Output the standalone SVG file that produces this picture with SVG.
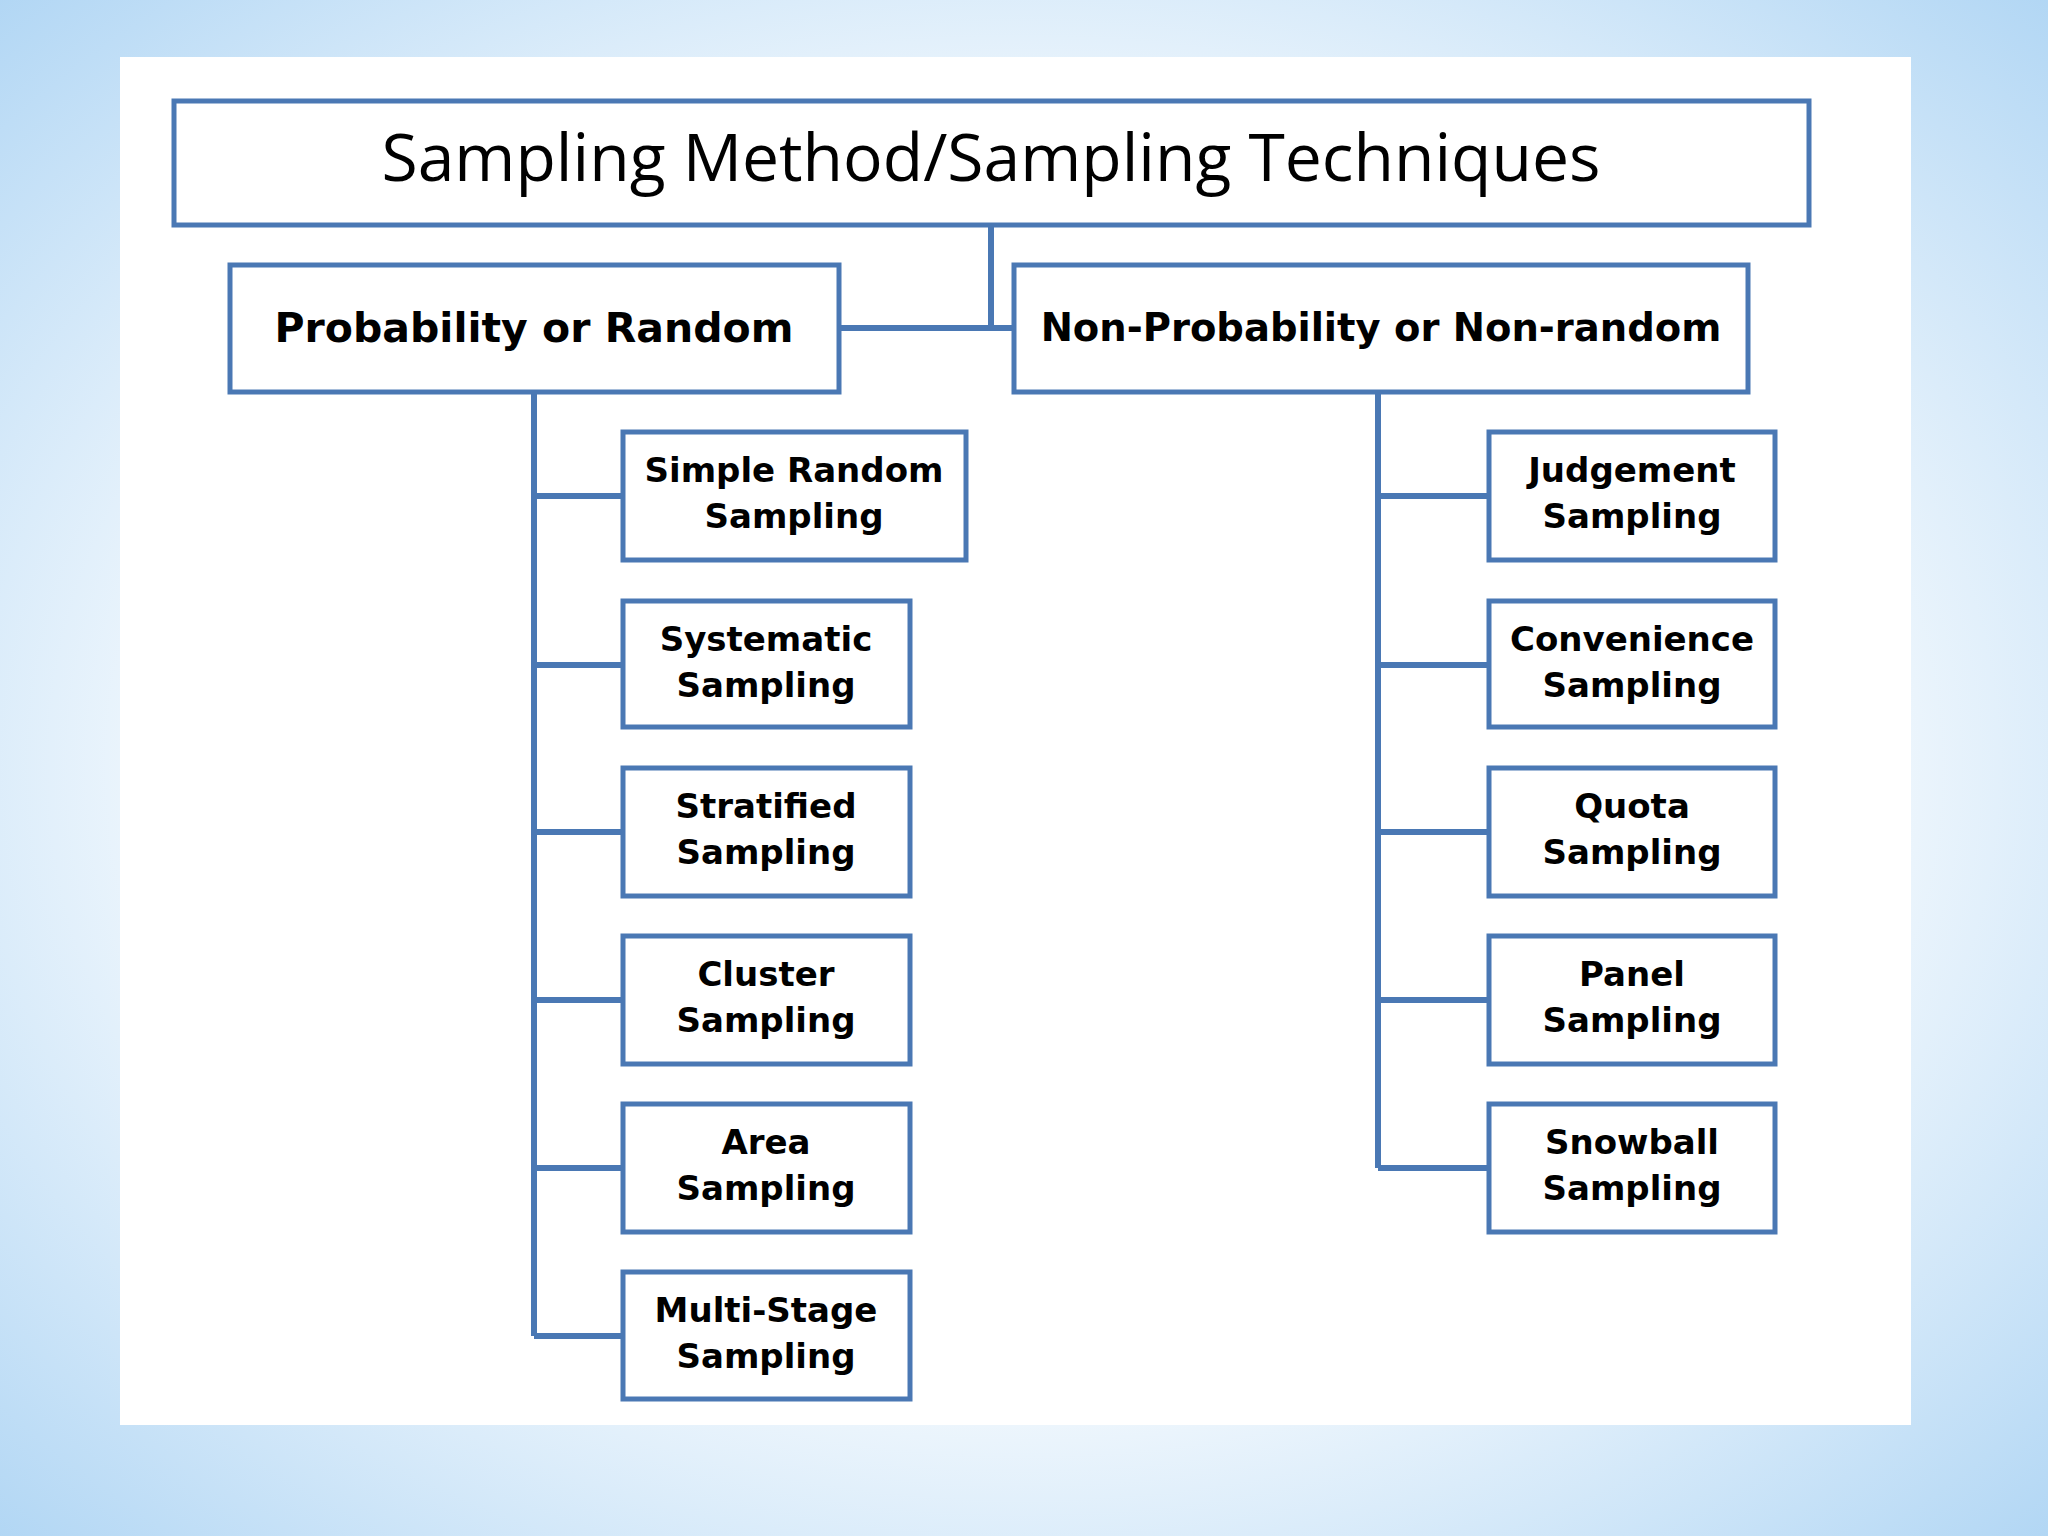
<svg xmlns="http://www.w3.org/2000/svg" width="2048" height="1536" viewBox="0 0 2048 1536">
<defs>
<radialGradient id="bg" cx="50%" cy="50%" r="75%">
<stop offset="0.45" stop-color="#ffffff"/><stop offset="1" stop-color="#a9d2f3"/>
</radialGradient>
<style>
.b{fill:#fff;stroke:#4a78b4;stroke-width:5}
.c{fill:none;stroke:#4a78b4;stroke-width:6}
.t{font-family:"DejaVu Sans",sans-serif;font-weight:bold;font-size:34px;fill:#000;text-anchor:middle}
.h{font-family:"DejaVu Sans",sans-serif;font-weight:bold;font-size:41px;fill:#000;text-anchor:middle}
</style>
</defs>
<rect width="2048" height="1536" fill="url(#bg)"/>
<rect x="120" y="57" width="1791" height="1368" fill="#fff"/>
<g id="connectors" class="c">
<path d="M991 225V328M839 328H1014"/>
<path d="M534 392V1336M534 496H623M534 665H623M534 832H623M534 1000H623M534 1168H623M534 1336H623"/>
<path d="M1378 392V1168M1378 496H1489M1378 665H1489M1378 832H1489M1378 1000H1489M1378 1168H1489"/>
</g>
<g id="title"><rect class="b" x="174" y="101" width="1635" height="124"/>
<text x="991" y="181" font-family="'Open Sans',sans-serif" font-size="66" text-anchor="middle">Sampling Method/Sampling Techniques</text></g>
<g id="prob"><rect class="b" x="230" y="265" width="609" height="127"/><text class="h" x="534" y="342">Probability or Random</text></g>
<g id="nonprob"><rect class="b" x="1014" y="265" width="734" height="127"/><text class="h" x="1381" y="341" style="font-size:38.5px">Non-Probability or Non-random</text></g>
<g id="simple"><rect class="b" x="623" y="432" width="343" height="128"/><text class="t" x="794" y="482">Simple Random</text><text class="t" x="794" y="528">Sampling</text></g>
<g id="systematic"><rect class="b" x="623" y="601" width="287" height="126"/><text class="t" x="766" y="651">Systematic</text><text class="t" x="766" y="697">Sampling</text></g>
<g id="stratified"><rect class="b" x="623" y="768" width="287" height="128"/><text class="t" x="766" y="818">Stratified</text><text class="t" x="766" y="864">Sampling</text></g>
<g id="cluster"><rect class="b" x="623" y="936" width="287" height="128"/><text class="t" x="766" y="986">Cluster</text><text class="t" x="766" y="1032">Sampling</text></g>
<g id="area"><rect class="b" x="623" y="1104" width="287" height="128"/><text class="t" x="766" y="1154">Area</text><text class="t" x="766" y="1200">Sampling</text></g>
<g id="multistage"><rect class="b" x="623" y="1272" width="287" height="127"/><text class="t" x="766" y="1322">Multi-Stage</text><text class="t" x="766" y="1368">Sampling</text></g>
<g id="judgement"><rect class="b" x="1489" y="432" width="286" height="128"/><text class="t" x="1632" y="482">Judgement</text><text class="t" x="1632" y="528">Sampling</text></g>
<g id="convenience"><rect class="b" x="1489" y="601" width="286" height="126"/><text class="t" x="1632" y="651">Convenience</text><text class="t" x="1632" y="697">Sampling</text></g>
<g id="quota"><rect class="b" x="1489" y="768" width="286" height="128"/><text class="t" x="1632" y="818">Quota</text><text class="t" x="1632" y="864">Sampling</text></g>
<g id="panel"><rect class="b" x="1489" y="936" width="286" height="128"/><text class="t" x="1632" y="986">Panel</text><text class="t" x="1632" y="1032">Sampling</text></g>
<g id="snowball"><rect class="b" x="1489" y="1104" width="286" height="128"/><text class="t" x="1632" y="1154">Snowball</text><text class="t" x="1632" y="1200">Sampling</text></g>
</svg>
